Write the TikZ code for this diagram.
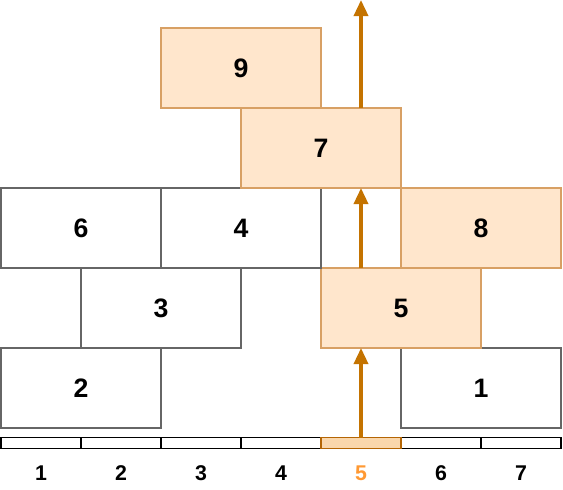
\documentclass[tikz,border=0pt]{standalone}
\usepackage{fontspec}
\setmainfont{Liberation Sans}
\usetikzlibrary{arrows.meta,calc}
\definecolor{boxgrey}{HTML}{666666}
\definecolor{ofill}{HTML}{FFE6CC}
\definecolor{ostroke}{HTML}{D8A064}
\definecolor{cfill}{HTML}{FAD7AC}
\definecolor{cstroke}{HTML}{B46504}
\definecolor{arr}{HTML}{C47300}
\definecolor{lorange}{HTML}{FF9933}
\begin{document}
\begin{tikzpicture}[x=0.75pt,y=-0.75pt,
  blk/.style={draw=boxgrey,line width=1.3pt,fill=white,minimum width=120pt,minimum height=60pt,inner sep=0pt,outer sep=0pt,font=\fontsize{20}{24}\selectfont\bfseries},
  oblk/.style={blk,draw=ostroke,fill=ofill},
  cell/.style={draw=black,line width=0.8pt,fill=white,minimum width=60pt,minimum height=8pt,inner sep=0pt,outer sep=0pt},
  hcell/.style={cell,draw=cstroke,fill=cfill},
  lbl/.style={font=\fontsize{16}{18}\selectfont\bfseries,inner sep=0pt},
  arrw/.style={draw=arr,line width=2.6pt,-{Triangle[length=12pt,width=10.5pt]}}]
\useasboundingbox (0,0) rectangle (563,489);
% bar cells
\foreach \i in {1,2,3,4,6,7} {
  \node[cell] (c\i) at ({1+80*(\i-1)+40},443) {};
  \node[lbl] (l\i) at ({1+80*(\i-1)+40},473) {\i};
}
\node[hcell] (c5) at (361,443) {};
\node[lbl,text=lorange] (l5) at (361,473) {5};
% boxes
\node[blk] (b2) at (81,388) {2};
\node[blk] (b1) at (481,388) {1};
\node[blk] (b3) at (161,308) {3};
\node[oblk] (b5) at (401,308) {5};
\node[blk] (b6) at (81,228) {6};
\node[blk] (b4) at (241,228) {4};
\node[oblk] (b8) at (481,228) {8};
\node[oblk] (b7) at (321,148) {7};
\node[oblk] (b9) at (241,68) {9};
\coordinate (top) at (361,0);
% arrows
\draw[arrw] (c5.north) -- (c5.north |- b5.south);
\draw[arrw] (c5.north |- b5.north) -- (c5.north |- b7.south);
\draw[arrw] (c5.north |- b7.north) -- (top);
\end{tikzpicture}
\end{document}
